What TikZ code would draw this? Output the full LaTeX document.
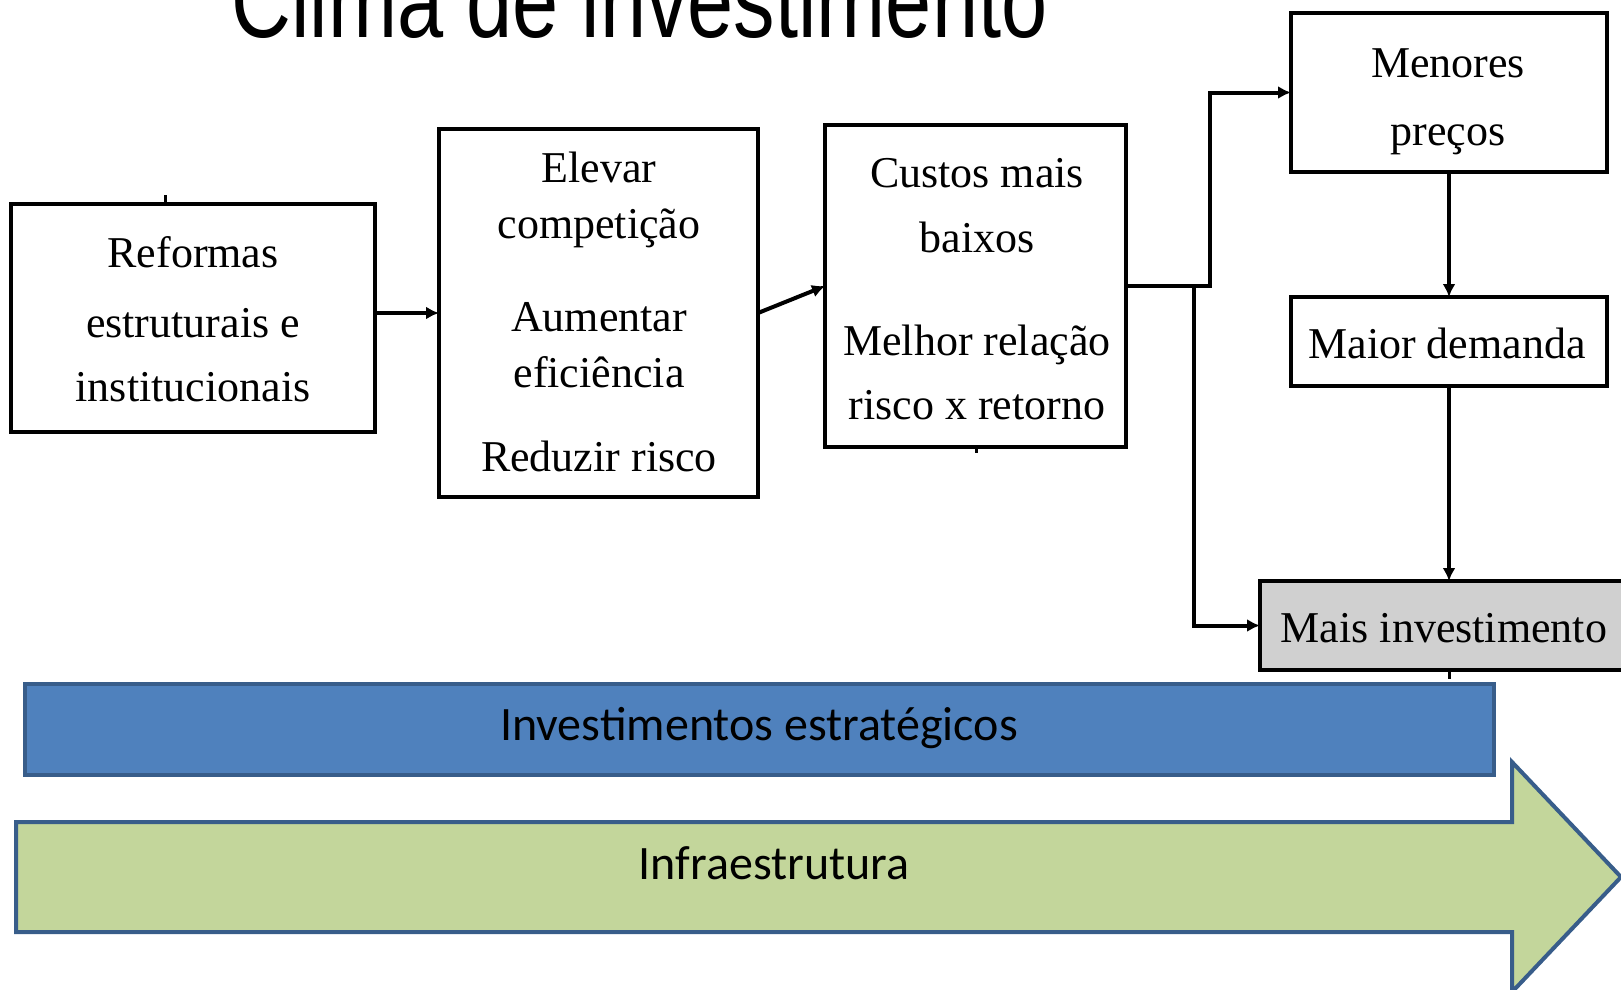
\documentclass[tikz,border=0pt]{standalone}
\usepackage{fontspec}
\setmainfont{Liberation Serif}
\newfontfamily\titlefont{Liberation Sans}
\newfontfamily\bandfont{Carlito}
\usetikzlibrary{arrows.meta}
\definecolor{boxgray}{RGB}{208,208,208}
\definecolor{bandblue}{RGB}{79,129,189}
\definecolor{bandborder}{RGB}{56,93,138}
\definecolor{bandgreen}{RGB}{195,214,155}
\begin{document}
\begin{tikzpicture}[x=1pt,y=-1pt,
  flowbox/.style={draw=black,line width=4pt,rectangle,inner sep=0pt,outer sep=0pt},
  boxtext/.style={anchor=base,inner sep=0pt,font=\fontsize{44}{44}\selectfont},
  conn/.style={draw=black,line width=4pt,-{Latex[length=13pt,width=13pt]}},
  stub/.style={draw=black,line width=3pt},
  band/.style={draw=bandborder,line width=4pt},
  bandtext/.style={anchor=base,inner sep=0pt,font=\bandfont\fontsize{48}{48}\selectfont}]
\clip (0,0) rectangle (1621,989);
\fill[white] (0,0) rectangle (1621,989);
% title
\node[anchor=base,inner sep=0pt] (title) at (639.5,37)
  {\scalebox{0.79}[1]{\titlefont\fontsize{105}{105}\selectfont Clima de investimento}};
% boxes
\node[flowbox,minimum width=364pt,minimum height=228pt] (ref) at (193,318) {};
\node[flowbox,minimum width=319pt,minimum height=368pt] (elev) at (598.5,313) {};
\node[flowbox,minimum width=301pt,minimum height=322pt] (cust) at (975.5,286) {};
\node[flowbox,minimum width=316pt,minimum height=159pt] (men) at (1449,92.5) {};
\node[flowbox,minimum width=316pt,minimum height=89pt] (mai) at (1449,341.5) {};
\node[flowbox,fill=boxgray,minimum width=380pt,minimum height=89pt] (mais) at (1450,625.5) {};
% box texts
\node[boxtext] (t1) at (193,267) {Reformas};
\node[boxtext] (t2) at (193,337) {estruturais e};
\node[boxtext] (t3) at (193,401) {institucionais};
\node[boxtext] (t4) at (599,182) {Elevar};
\node[boxtext] (t5) at (599,238) {competição};
\node[boxtext] (t6) at (599,331) {Aumentar};
\node[boxtext] (t7) at (599,387) {eficiência};
\node[boxtext] (t8) at (599,471) {Reduzir risco};
\node[boxtext] (t9) at (977,187) {Custos mais};
\node[boxtext] (t10) at (977,252) {baixos};
\node[boxtext] (t11) at (977,355) {Melhor relação};
\node[boxtext] (t12) at (977,419) {risco x retorno};
\node[boxtext] (t13) at (1448,77) {Menores};
\node[boxtext] (t14) at (1448,145) {preços};
\node[boxtext] (t15) at (1447,358) {Maior demanda};
\node[boxtext] (t16) at (1444,642) {Mais investimento};
% connectors
\draw[conn] (ref.east |- elev.west) -- (elev.west);
\draw[conn] (elev.east) -- (cust.west);
\draw[conn] (cust.east) -- ++(84,0) |- (men.west);
\draw[conn] (cust.east) -- ++(68,0) |- (mais.west);
\draw[conn] (men.south) -- (mai.north);
\draw[conn] (mai.south) -- (mai.south |- mais.north);
% small stubs
\draw[stub] ([xshift=-28pt]ref.north) -- ++(0,-9);
\draw[stub] ([xshift=1pt]cust.south) -- ++(0,6);
\draw[stub] (mai.south |- mais.south) -- ++(0,9);
% bands
\node[band,fill=bandblue,minimum width=1469pt,minimum height=91pt,inner sep=0pt] (inv) at (759.5,729.5) {};
\node[bandtext] (invt) at (759,740) {Investimentos estratégicos};
\draw[band,fill=bandgreen] (16,822) -- (1512,822) -- (1512,762) -- (1621,877) -- (1512,992) -- (1512,932) -- (16,932) -- cycle;
\node[bandtext] (infra) at (774,879) {Infraestrutura};
\end{tikzpicture}
\end{document}
